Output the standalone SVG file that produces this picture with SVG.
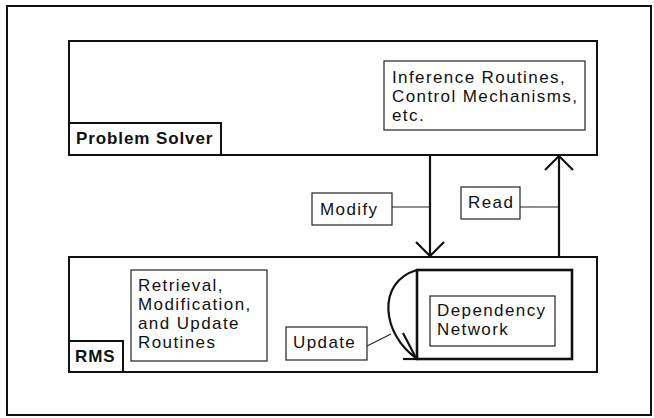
<svg xmlns="http://www.w3.org/2000/svg" width="654" height="418" viewBox="0 0 654 418">
  <style>
    .frame { fill: none; stroke: #111; stroke-width: 2; }
    .box { fill: #fff; stroke: #111; stroke-width: 2; }
    .thin { fill: #fff; stroke: #222; stroke-width: 1.2; }
    .heavy { fill: #fff; stroke: #111; stroke-width: 2.6; }
    .wire { fill: none; stroke: #111; stroke-width: 2.2; }
    .lead { fill: none; stroke: #222; stroke-width: 1.1; }
    text { font-family: "Liberation Sans", Arial, sans-serif; font-size: 17px; fill: #111; letter-spacing: 1.4px; }
    .bold { font-weight: bold; letter-spacing: 0.9px; }
  </style>
  <defs>
    <!-- open V arrowhead; +x of the marker runs along the line -->
    <marker id="chevron" viewBox="-16 -16 18 32" markerWidth="18" markerHeight="32" refX="0" refY="0" orient="auto" markerUnits="userSpaceOnUse">
      <path d="M -14 -14 L 0 0 L -14 14" fill="none" stroke="#111" stroke-width="2.2"/>
    </marker>
  </defs>

  <rect width="654" height="418" fill="#fff"/>
  <rect class="frame" x="7" y="6" width="644" height="409"/>

  <g id="problem-solver">
    <rect class="box" x="69" y="41" width="528" height="114"/>
    <rect class="box" x="69" y="123" width="152" height="32"/>
    <text class="bold" x="76" y="144">Problem Solver</text>
  </g>

  <g id="inference">
    <rect class="thin" x="384" y="61" width="201" height="69"/>
    <text x="392" y="83">Inference Routines,</text>
    <text x="392" y="102">Control Mechanisms,</text>
    <text x="392" y="121">etc.</text>
  </g>

  <g id="rms">
    <rect class="box" x="69" y="257" width="528" height="115"/>
    <rect class="box" x="69" y="341" width="54" height="31"/>
    <text class="bold" x="75" y="362">RMS</text>
  </g>

  <g id="routines">
    <rect class="thin" x="131" y="270" width="136" height="91"/>
    <text x="138" y="291">Retrieval,</text>
    <text x="138" y="310">Modification,</text>
    <text x="138" y="329">and Update</text>
    <text x="138" y="348">Routines</text>
  </g>

  <g id="dependency">
    <rect class="heavy" x="417" y="270" width="155" height="89"/>
    <rect class="thin" x="430" y="296" width="125" height="50"/>
    <text x="437" y="316">Dependency</text>
    <text x="437" y="335">Network</text>
  </g>

  <g id="modify-label">
    <rect class="thin" x="312" y="193" width="80" height="32"/>
    <text x="320" y="215">Modify</text>
  </g>

  <g id="read-label">
    <rect class="thin" x="461" y="187" width="59" height="32"/>
    <text x="468" y="208">Read</text>
  </g>

  <g id="update-label">
    <rect class="thin" x="286" y="327" width="81" height="33"/>
    <text x="293" y="348">Update</text>
  </g>

  <g id="connectors">
    <!-- modify: problem solver down into RMS -->
    <line class="wire" x1="430" y1="155" x2="430" y2="256" marker-end="url(#chevron)"/>
    <!-- read: RMS up into problem solver -->
    <line class="wire" x1="559" y1="257" x2="559" y2="156" marker-end="url(#chevron)"/>
    <!-- update loop on the dependency network -->
    <path class="wire" d="M 417 270 C 376 282 382 334 416 358"/>
    <line class="wire" x1="403" y1="333" x2="416" y2="358"/>
    <line class="wire" x1="403" y1="359" x2="418" y2="359"/>
    <!-- label leaders -->
    <line class="lead" x1="392" y1="207" x2="430" y2="207"/>
    <line class="lead" x1="520" y1="207" x2="559" y2="207"/>
    <line class="lead" x1="367" y1="346" x2="391" y2="334"/>
  </g>
</svg>
